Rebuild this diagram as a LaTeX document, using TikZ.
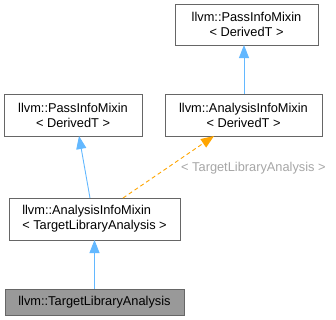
\documentclass[tikz,border=0pt]{standalone}
\usepackage{fontspec}
\setmainfont{Liberation Sans}
\usetikzlibrary{arrows.meta}
\definecolor{edgeblue}{HTML}{63B8FF}
\definecolor{edgeorange}{HTML}{FFA500}
\definecolor{boxline}{HTML}{666666}
\definecolor{boxfill}{HTML}{999999}
\definecolor{labelgray}{HTML}{A6A6A6}
\begin{document}
\begin{tikzpicture}[x=1bp,y=-1bp,
  cls/.style={draw=boxline,line width=0.9bp,fill=white,inner sep=0pt,
    font=\fontsize{12.8bp}{15bp}\selectfont,align=center},
  current/.style={cls,fill=boxfill},
  inherit/.style={draw=edgeblue,line width=0.9bp,
    -{Triangle[length=13bp,width=10bp,fill=edgeblue]}},
  templ/.style={draw=edgeorange,line width=0.9bp,dash pattern=on 4bp off 3bp,
    -{Triangle[length=13bp,width=10bp,fill=edgeorange]}},
  lbl/.style={text=labelgray,font=\fontsize{12.8bp}{15bp}\selectfont,inner sep=0pt}]
\useasboundingbox (0,0) rectangle (336,320);

% class boxes
\node[cls,minimum width=143bp,minimum height=41bp] (topP) at (246.5,24.5)
  {llvm::PassInfoMixin\\< DerivedT >};
\node[cls,minimum width=157bp,minimum height=42bp] (rightA) at (243.5,115)
  {llvm::AnalysisInfoMixin\\< DerivedT >};
\node[cls,minimum width=138bp,minimum height=42bp] (leftP) at (73,115)
  {llvm::PassInfoMixin\\< DerivedT >};
\node[cls,minimum width=171bp,minimum height=42bp,align=left] (lowA) at (94.5,219)
  {llvm::AnalysisInfoMixin\\< TargetLibraryAnalysis >};
\node[current,minimum width=179bp,minimum height=26bp] (leaf) at (94.5,302)
  {llvm::TargetLibraryAnalysis};

% inheritance edges
\coordinate (rA) at (244,94);
\coordinate (tP) at (244,45);
\draw[inherit] (rA) -- (tP);
\coordinate (lAa) at (90,198);
\coordinate (lPb) at (79,136);
\draw[inherit] (lAa) -- (lPb);
\coordinate (lfT) at (94.5,289);
\coordinate (lAb) at (94.5,240);
\draw[inherit] (lfT) -- (lAb);

% template instantiation edge
\coordinate (lAt) at (123,198);
\coordinate (rAb) at (214,136);
\draw[templ] (lAt) -- (rAb);
\node[lbl,anchor=west] (tlabel) at (181,168) {< TargetLibraryAnalysis >};
\end{tikzpicture}
\end{document}
